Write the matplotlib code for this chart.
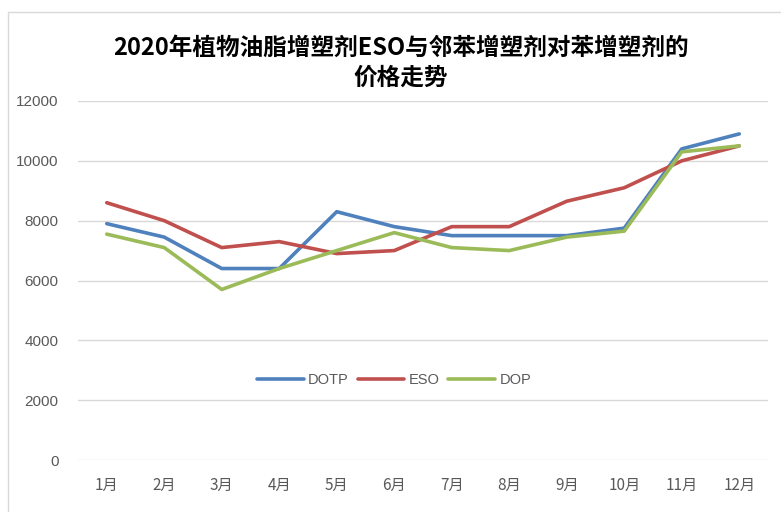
import matplotlib
matplotlib.use("Agg")
import matplotlib.pyplot as plt
from matplotlib.patches import Rectangle

plt.rcParams['font.family'] = ['Noto Sans CJK SC', 'DejaVu Sans']

months = ['1月', '2月', '3月', '4月', '5月', '6月', '7月', '8月', '9月', '10月', '11月', '12月']
dotp = [7900, 7450, 6400, 6400, 8300, 7800, 7500, 7500, 7500, 7750, 10400, 10900]
eso = [8600, 8000, 7100, 7300, 6900, 7000, 7800, 7800, 8650, 9100, 10000, 10500]
dop = [7550, 7100, 5700, 6400, 7000, 7600, 7100, 7000, 7450, 7650, 10300, 10500]
yticks = [0, 2000, 4000, 6000, 8000, 10000, 12000]
title = '2020年植物油脂增塑剂ESO与邻苯增塑剂对苯增塑剂的\n价格走势'

W, H = 781, 512
fig = plt.figure(figsize=(W / 100, H / 100), dpi=100)
fig.patch.set_facecolor('white')

# chart border
fig.add_artist(Rectangle((8 / W, -0.1), 1.2, (H - 12) / H + 0.1, transform=fig.transFigure,
                         fill=False, edgecolor='#D9D9D9', linewidth=1))

ax = fig.add_axes([78 / W, (H - 460) / H, (768 - 78) / W, (460 - 101) / H])
x = list(range(len(months)))
ax.plot(x, dotp, color='#4F81BD', linewidth=2.6, label='DOTP', solid_capstyle='round')
ax.plot(x, eso, color='#C0504D', linewidth=2.6, label='ESO', solid_capstyle='round')
ax.plot(x, dop, color='#9BBB59', linewidth=2.6, label='DOP', solid_capstyle='round')

ax.set_xlim(-0.5, len(months) - 0.5)
ax.set_ylim(0, 12000)
ax.set_yticks(yticks)
ax.set_yticklabels([str(v) for v in yticks], family=['Liberation Sans', 'DejaVu Sans'])
ax.set_xticks(x)
ax.set_xticklabels(months)
ax.tick_params(axis='both', length=0, colors='#595959', labelsize=11)
ax.tick_params(axis='y', pad=14)
ax.tick_params(axis='x', pad=12)
ax.grid(axis='y', color='#D9D9D9', linewidth=1)
ax.set_axisbelow(True)
for s in ax.spines.values():
    s.set_visible(False)

leg = ax.legend(loc='center', bbox_to_anchor=(394 / W, (H - 380) / H), bbox_transform=fig.transFigure,
                ncol=3, frameon=False, handlelength=3.2, handletextpad=0.3, columnspacing=0.6,
                prop={'family': ['Liberation Sans', 'DejaVu Sans'], 'size': 10.5})
for t in leg.get_texts():
    t.set_color('#595959')

fig.text(401 / W, (H - 63) / H, title, ha='center', va='center', fontsize=17,
         fontweight='bold', color='black', linespacing=1.3)

fig.savefig('out.png', dpi=100)
